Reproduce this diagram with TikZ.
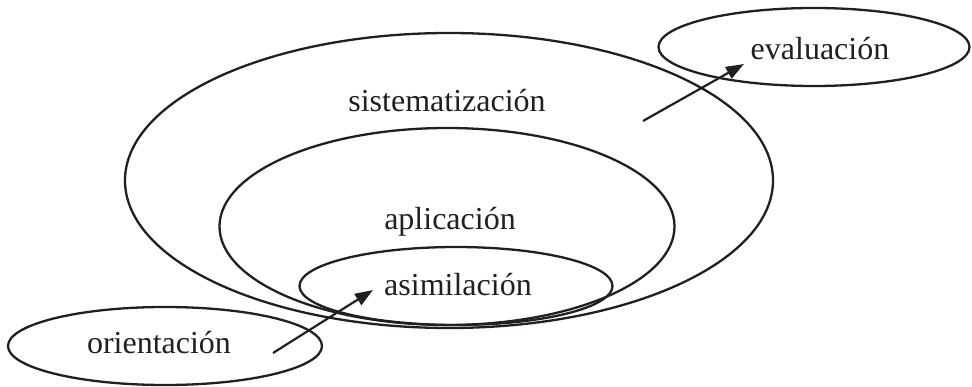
\documentclass[tikz,border=0pt]{standalone}
\usepackage{fontspec}
\setmainfont{Liberation Serif}
\usetikzlibrary{shapes.geometric,arrows.meta}
\definecolor{ink}{RGB}{35,31,32}
\tikzset{
  oval/.style={draw=ink, line width=2.3pt, ellipse, inner sep=0pt},
  lbl/.style={anchor=base, inner sep=0pt, font=\fontsize{32}{38}\selectfont, text=ink},
  arr/.style={line width=2.2pt, draw=ink, -{Triangle[length=18pt,width=13pt]}}
}
\begin{document}
\begin{tikzpicture}[x=1pt,y=-1pt]
\useasboundingbox (0,0) rectangle (972,387);
\node[oval, minimum width=648pt, minimum height=295pt] (sis) at (449,180.5) {};
\node[oval, minimum width=455pt, minimum height=197pt] (apl) at (447,226.5) {};
\node[oval, minimum width=313pt, minimum height=78pt] (asi) at (456,286) {};
\node[oval, minimum width=314pt, minimum height=78pt] (ori) at (165,346) {};
\node[oval, minimum width=311pt, minimum height=78pt] (eva) at (814,47) {};
\node[lbl] (tsis) at (447,112) {sistematización};
\node[lbl] (tapl) at (450,230) {aplicación};
\node[lbl] (tasi) at (458,296) {asimilación};
\node[lbl] (tori) at (159,353) {orientación};
\node[lbl] (teva) at (820,60) {evaluación};
\coordinate (a1s) at (273,353);
\coordinate (a1e) at (373,290);
\coordinate (a2s) at (643,121);
\coordinate (a2e) at (744,64);
\draw[arr] (a1s) -- (a1e);
\draw[arr] (a2s) -- (a2e);
\end{tikzpicture}
\end{document}
